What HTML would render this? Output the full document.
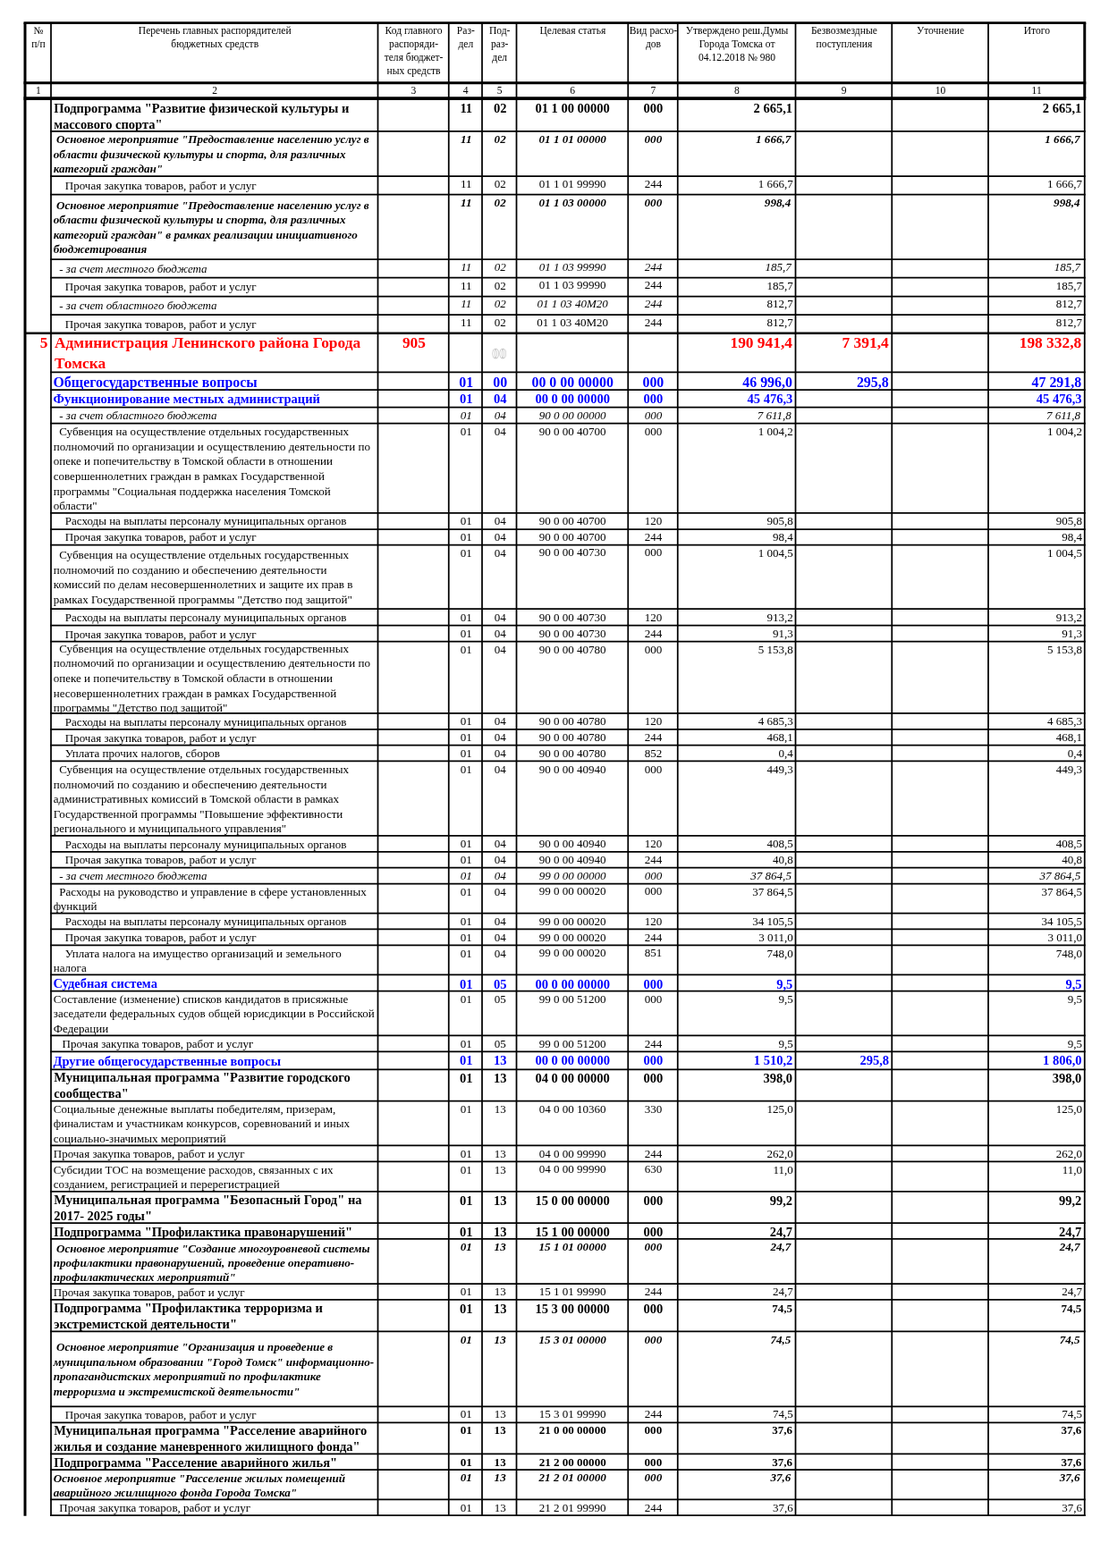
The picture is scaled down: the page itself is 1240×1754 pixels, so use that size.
<!DOCTYPE html>
<html lang="ru"><head><meta charset="utf-8"><title>Ведомственная структура расходов</title>
<style>
html,body{margin:0;padding:0;background:#fff;}
body{width:1240px;height:1754px;position:relative;overflow:hidden;font-family:"Liberation Serif","DejaVu Serif",serif;color:#000;}
svg{position:absolute;left:0;top:0;}
svg line{stroke:#000;}
.t{position:absolute;white-space:pre;line-height:20px;height:20px;}
.c{text-align:center;}
.r{text-align:right;}
.h{font-size:11.55px;}
.n{font-size:13.02px;}
.i{font-size:13.02px;font-style:italic;}
.b{font-size:14.5px;font-weight:bold;}
.bs{font-size:13.05px;font-weight:bold;}
.bi{font-size:13.08px;font-weight:bold;font-style:italic;}
.blue{font-size:15.9px;font-weight:bold;color:#0000ff;}
.blue2{font-size:14.52px;font-weight:bold;color:#0000ff;}
.red{font-size:17.35px;font-weight:bold;color:#ff0000;}
.ghost{font-size:15.9px;font-weight:bold;color:#fff;-webkit-text-stroke:0.45px #a8a8a8;}
</style></head>
<body>
<svg width="1240" height="1754" viewBox="0 0 1240 1754">
<line x1="26.50" y1="25.60" x2="1214.25" y2="25.60" stroke-width="2.9"/>
<line x1="26.50" y1="92.70" x2="1214.25" y2="92.70" stroke-width="2.9"/>
<line x1="26.50" y1="110.20" x2="1214.25" y2="110.20" stroke-width="3.8"/>
<line x1="28.00" y1="25.60" x2="28.00" y2="1695.70" stroke-width="3.0"/>
<line x1="1212.75" y1="25.60" x2="1212.75" y2="110.00" stroke-width="3.0"/>
<line x1="1212.75" y1="110.00" x2="1212.75" y2="1695.90" stroke-width="1.75"/>
<line x1="57.00" y1="25.60" x2="57.00" y2="1695.90" stroke-width="1.75"/>
<line x1="422.50" y1="25.60" x2="422.50" y2="1695.90" stroke-width="1.75"/>
<line x1="501.75" y1="25.60" x2="501.75" y2="1695.90" stroke-width="1.75"/>
<line x1="539.00" y1="25.60" x2="539.00" y2="1695.90" stroke-width="1.75"/>
<line x1="577.50" y1="25.60" x2="577.50" y2="1695.90" stroke-width="1.75"/>
<line x1="702.25" y1="25.60" x2="702.25" y2="1695.90" stroke-width="1.75"/>
<line x1="757.75" y1="25.60" x2="757.75" y2="1695.90" stroke-width="1.75"/>
<line x1="889.50" y1="25.60" x2="889.50" y2="1695.90" stroke-width="1.75"/>
<line x1="997.25" y1="25.60" x2="997.25" y2="1695.90" stroke-width="1.75"/>
<line x1="1105.00" y1="25.60" x2="1105.00" y2="1695.90" stroke-width="1.75"/>
<line x1="56.10" y1="146.85" x2="1213.65" y2="146.85" stroke-width="1.75"/>
<line x1="56.10" y1="197.00" x2="1213.65" y2="197.00" stroke-width="1.75"/>
<line x1="56.10" y1="217.50" x2="1213.65" y2="217.50" stroke-width="1.75"/>
<line x1="56.10" y1="290.00" x2="1213.65" y2="290.00" stroke-width="1.75"/>
<line x1="56.10" y1="310.50" x2="1213.65" y2="310.50" stroke-width="1.75"/>
<line x1="56.10" y1="331.50" x2="1213.65" y2="331.50" stroke-width="1.75"/>
<line x1="56.10" y1="352.00" x2="1213.65" y2="352.00" stroke-width="1.75"/>
<line x1="28.00" y1="372.75" x2="1213.45" y2="372.75" stroke-width="2.4"/>
<line x1="56.10" y1="416.30" x2="1213.65" y2="416.30" stroke-width="1.75"/>
<line x1="56.10" y1="436.00" x2="1213.65" y2="436.00" stroke-width="1.75"/>
<line x1="56.10" y1="455.50" x2="1213.65" y2="455.50" stroke-width="1.75"/>
<line x1="56.10" y1="473.50" x2="1213.65" y2="473.50" stroke-width="1.75"/>
<line x1="56.10" y1="573.75" x2="1213.65" y2="573.75" stroke-width="1.75"/>
<line x1="56.10" y1="592.00" x2="1213.65" y2="592.00" stroke-width="1.75"/>
<line x1="56.10" y1="609.70" x2="1213.65" y2="609.70" stroke-width="1.75"/>
<line x1="56.10" y1="681.00" x2="1213.65" y2="681.00" stroke-width="1.75"/>
<line x1="56.10" y1="699.50" x2="1213.65" y2="699.50" stroke-width="1.75"/>
<line x1="56.10" y1="717.50" x2="1213.65" y2="717.50" stroke-width="1.75"/>
<line x1="56.10" y1="797.75" x2="1213.65" y2="797.75" stroke-width="1.75"/>
<line x1="56.10" y1="815.75" x2="1213.65" y2="815.75" stroke-width="1.75"/>
<line x1="56.10" y1="833.50" x2="1213.65" y2="833.50" stroke-width="1.75"/>
<line x1="56.10" y1="851.25" x2="1213.65" y2="851.25" stroke-width="1.75"/>
<line x1="56.10" y1="934.75" x2="1213.65" y2="934.75" stroke-width="1.75"/>
<line x1="56.10" y1="952.75" x2="1213.65" y2="952.75" stroke-width="1.75"/>
<line x1="56.10" y1="970.50" x2="1213.65" y2="970.50" stroke-width="1.75"/>
<line x1="56.10" y1="988.50" x2="1213.65" y2="988.50" stroke-width="1.75"/>
<line x1="56.10" y1="1021.50" x2="1213.65" y2="1021.50" stroke-width="1.75"/>
<line x1="56.10" y1="1039.25" x2="1213.65" y2="1039.25" stroke-width="1.75"/>
<line x1="56.10" y1="1057.25" x2="1213.65" y2="1057.25" stroke-width="1.75"/>
<line x1="56.10" y1="1090.25" x2="1213.65" y2="1090.25" stroke-width="1.75"/>
<line x1="56.10" y1="1108.50" x2="1213.65" y2="1108.50" stroke-width="1.75"/>
<line x1="56.10" y1="1158.25" x2="1213.65" y2="1158.25" stroke-width="1.75"/>
<line x1="56.10" y1="1176.25" x2="1213.65" y2="1176.25" stroke-width="1.75"/>
<line x1="56.10" y1="1196.25" x2="1213.65" y2="1196.25" stroke-width="1.75"/>
<line x1="56.10" y1="1231.50" x2="1213.65" y2="1231.50" stroke-width="1.75"/>
<line x1="56.10" y1="1281.25" x2="1213.65" y2="1281.25" stroke-width="1.75"/>
<line x1="56.10" y1="1299.25" x2="1213.65" y2="1299.25" stroke-width="1.75"/>
<line x1="56.10" y1="1332.75" x2="1213.65" y2="1332.75" stroke-width="1.75"/>
<line x1="56.10" y1="1368.00" x2="1213.65" y2="1368.00" stroke-width="1.75"/>
<line x1="56.10" y1="1385.75" x2="1213.65" y2="1385.75" stroke-width="1.75"/>
<line x1="56.10" y1="1436.00" x2="1213.65" y2="1436.00" stroke-width="1.75"/>
<line x1="56.10" y1="1453.75" x2="1213.65" y2="1453.75" stroke-width="1.75"/>
<line x1="56.10" y1="1489.25" x2="1213.65" y2="1489.25" stroke-width="1.75"/>
<line x1="56.10" y1="1573.25" x2="1213.65" y2="1573.25" stroke-width="1.75"/>
<line x1="56.10" y1="1591.25" x2="1213.65" y2="1591.25" stroke-width="1.75"/>
<line x1="56.10" y1="1626.25" x2="1213.65" y2="1626.25" stroke-width="1.75"/>
<line x1="56.10" y1="1644.00" x2="1213.65" y2="1644.00" stroke-width="1.75"/>
<line x1="56.10" y1="1677.30" x2="1213.65" y2="1677.30" stroke-width="1.75"/>
<line x1="56.10" y1="1695.00" x2="1213.65" y2="1695.00" stroke-width="1.75"/>
</svg>
<div class="t h c" style="left:28.48px;top:24.00px;width:29.00px;">№</div>
<div class="t h c" style="left:28.48px;top:39.00px;width:29.00px;">п/п</div>
<div class="t h c" style="left:28.30px;top:91.00px;width:29.00px;">1</div>
<div class="t h c" style="left:57.48px;top:24.00px;width:365.50px;">Перечень главных распорядителей</div>
<div class="t h c" style="left:57.48px;top:39.00px;width:365.50px;">бюджетных средств</div>
<div class="t h c" style="left:57.30px;top:91.00px;width:365.50px;">2</div>
<div class="t h c" style="left:422.98px;top:24.00px;width:79.25px;">Код главного</div>
<div class="t h c" style="left:422.98px;top:39.00px;width:79.25px;">распоряди-</div>
<div class="t h c" style="left:422.98px;top:54.00px;width:79.25px;">теля бюджет-</div>
<div class="t h c" style="left:422.98px;top:69.00px;width:79.25px;">ных средств</div>
<div class="t h c" style="left:422.80px;top:91.00px;width:79.25px;">3</div>
<div class="t h c" style="left:502.23px;top:24.00px;width:37.25px;">Раз-</div>
<div class="t h c" style="left:502.23px;top:39.00px;width:37.25px;">дел</div>
<div class="t h c" style="left:502.05px;top:91.00px;width:37.25px;">4</div>
<div class="t h c" style="left:539.48px;top:24.00px;width:38.50px;">Под-</div>
<div class="t h c" style="left:539.48px;top:39.00px;width:38.50px;">раз-</div>
<div class="t h c" style="left:539.48px;top:54.00px;width:38.50px;">дел</div>
<div class="t h c" style="left:539.30px;top:91.00px;width:38.50px;">5</div>
<div class="t h c" style="left:577.98px;top:24.00px;width:124.75px;">Целевая статья</div>
<div class="t h c" style="left:577.80px;top:91.00px;width:124.75px;">6</div>
<div class="t h c" style="left:702.73px;top:24.00px;width:55.50px;">Вид расхо-</div>
<div class="t h c" style="left:702.73px;top:39.00px;width:55.50px;">дов</div>
<div class="t h c" style="left:702.55px;top:91.00px;width:55.50px;">7</div>
<div class="t h c" style="left:758.23px;top:24.00px;width:131.75px;">Утверждено реш.Думы</div>
<div class="t h c" style="left:758.23px;top:39.00px;width:131.75px;">Города Томска от</div>
<div class="t h c" style="left:758.23px;top:54.00px;width:131.75px;">04.12.2018 № 980</div>
<div class="t h c" style="left:758.05px;top:91.00px;width:131.75px;">8</div>
<div class="t h c" style="left:889.98px;top:24.00px;width:107.75px;">Безвозмездные</div>
<div class="t h c" style="left:889.98px;top:39.00px;width:107.75px;">поступления</div>
<div class="t h c" style="left:889.80px;top:91.00px;width:107.75px;">9</div>
<div class="t h c" style="left:997.73px;top:24.00px;width:107.75px;">Уточнение</div>
<div class="t h c" style="left:997.55px;top:91.00px;width:107.75px;">10</div>
<div class="t h c" style="left:1105.48px;top:24.00px;width:107.75px;">Итого</div>
<div class="t h c" style="left:1105.30px;top:91.00px;width:107.75px;">11</div>
<div class="t b" style="left:60.15px;top:111.00px;">Подпрограмма "Развитие физической культуры и</div>
<div class="t b" style="left:60.15px;top:129.00px;">массового спорта"</div>
<div class="t b c" style="left:502.65px;top:111.00px;width:37.25px;">11</div>
<div class="t b c" style="left:539.90px;top:111.00px;width:38.50px;">02</div>
<div class="t b c" style="left:577.80px;top:111.00px;width:124.75px;">01 1 00 00000</div>
<div class="t b c" style="left:702.65px;top:111.00px;width:55.50px;">000</div>
<div class="t b r" style="left:757.75px;top:111.00px;width:128.35px;">2 665,1</div>
<div class="t b r" style="left:1105.00px;top:111.00px;width:104.35px;">2 665,1</div>
<div class="t bi" style="left:59.75px;top:146.00px;"> Основное мероприятие "Предоставление населению услуг в</div>
<div class="t bi" style="left:59.75px;top:163.00px;">области физической культуры и спорта, для различных</div>
<div class="t bi" style="left:59.75px;top:179.00px;">категорий граждан"</div>
<div class="t bi c" style="left:502.65px;top:146.00px;width:37.25px;">11</div>
<div class="t bi c" style="left:539.90px;top:146.00px;width:38.50px;">02</div>
<div class="t bi c" style="left:577.80px;top:146.00px;width:124.75px;">01 1 01 00000</div>
<div class="t bi c" style="left:702.65px;top:146.00px;width:55.50px;">000</div>
<div class="t bi r" style="left:757.75px;top:146.00px;width:126.55px;">1 666,7</div>
<div class="t bi r" style="left:1105.00px;top:146.00px;width:102.55px;">1 666,7</div>
<div class="t n" style="left:59.75px;top:198.00px;">    Прочая закупка товаров, работ и услуг</div>
<div class="t n c" style="left:502.65px;top:196.00px;width:37.25px;">11</div>
<div class="t n c" style="left:539.90px;top:196.00px;width:38.50px;">02</div>
<div class="t n c" style="left:577.80px;top:196.00px;width:124.75px;">01 1 01 99990</div>
<div class="t n c" style="left:702.65px;top:196.00px;width:55.50px;">244</div>
<div class="t n r" style="left:757.75px;top:196.00px;width:129.05px;">1 666,7</div>
<div class="t n r" style="left:1105.00px;top:196.00px;width:105.05px;">1 666,7</div>
<div class="t bi" style="left:59.75px;top:220.00px;"> Основное мероприятие "Предоставление населению услуг в</div>
<div class="t bi" style="left:59.75px;top:236.00px;">области физической культуры и спорта, для различных</div>
<div class="t bi" style="left:59.75px;top:253.00px;">категорий граждан" в рамках реализации инициативного</div>
<div class="t bi" style="left:59.75px;top:269.00px;">бюджетирования</div>
<div class="t bi c" style="left:502.65px;top:217.00px;width:37.25px;">11</div>
<div class="t bi c" style="left:539.90px;top:217.00px;width:38.50px;">02</div>
<div class="t bi c" style="left:577.80px;top:217.00px;width:124.75px;">01 1 03 00000</div>
<div class="t bi c" style="left:702.65px;top:217.00px;width:55.50px;">000</div>
<div class="t bi r" style="left:757.75px;top:217.00px;width:126.55px;">998,4</div>
<div class="t bi r" style="left:1105.00px;top:217.00px;width:102.55px;">998,4</div>
<div class="t i" style="left:59.75px;top:291.00px;">  - за счет местного бюджета</div>
<div class="t i c" style="left:502.65px;top:289.00px;width:37.25px;">11</div>
<div class="t i c" style="left:539.90px;top:289.00px;width:38.50px;">02</div>
<div class="t i c" style="left:577.80px;top:289.00px;width:124.75px;">01 1 03 99990</div>
<div class="t i c" style="left:702.65px;top:289.00px;width:55.50px;">244</div>
<div class="t i r" style="left:757.75px;top:289.00px;width:127.15px;">185,7</div>
<div class="t i r" style="left:1105.00px;top:289.00px;width:103.15px;">185,7</div>
<div class="t n" style="left:59.75px;top:311.00px;">    Прочая закупка товаров, работ и услуг</div>
<div class="t n c" style="left:502.65px;top:310.00px;width:37.25px;">11</div>
<div class="t n c" style="left:539.90px;top:310.00px;width:38.50px;">02</div>
<div class="t n c" style="left:577.80px;top:309.00px;width:124.75px;">01 1 03 99990</div>
<div class="t n c" style="left:702.65px;top:309.00px;width:55.50px;">244</div>
<div class="t n r" style="left:757.75px;top:310.00px;width:129.05px;">185,7</div>
<div class="t n r" style="left:1105.00px;top:310.00px;width:105.05px;">185,7</div>
<div class="t i" style="left:59.75px;top:332.00px;">  - за счет областного бюджета</div>
<div class="t i c" style="left:502.65px;top:330.00px;width:37.25px;">11</div>
<div class="t i c" style="left:539.90px;top:330.00px;width:38.50px;">02</div>
<div class="t i c" style="left:577.80px;top:330.00px;width:124.75px;">01 1 03 40М20</div>
<div class="t i c" style="left:702.65px;top:330.00px;width:55.50px;">244</div>
<div class="t n r" style="left:757.75px;top:330.00px;width:129.05px;">812,7</div>
<div class="t n r" style="left:1105.00px;top:330.00px;width:105.05px;">812,7</div>
<div class="t n" style="left:59.75px;top:353.00px;">    Прочая закупка товаров, работ и услуг</div>
<div class="t n c" style="left:502.65px;top:351.00px;width:37.25px;">11</div>
<div class="t n c" style="left:539.90px;top:351.00px;width:38.50px;">02</div>
<div class="t n c" style="left:577.80px;top:351.00px;width:124.75px;">01 1 03 40М20</div>
<div class="t n c" style="left:702.65px;top:351.00px;width:55.50px;">244</div>
<div class="t n r" style="left:757.75px;top:351.00px;width:129.05px;">812,7</div>
<div class="t n r" style="left:1105.00px;top:351.00px;width:105.05px;">812,7</div>
<div class="t red" style="left:61.05px;top:374.00px;">Администрация Ленинского района Города</div>
<div class="t red" style="left:61.05px;top:397.00px;">Томска</div>
<div class="t red r" style="left:28.00px;top:374.00px;width:25.40px;">5</div>
<div class="t red c" style="left:423.30px;top:374.00px;width:79.25px;">905</div>
<div class="t red r" style="left:757.75px;top:374.00px;width:128.15px;">190 941,4</div>
<div class="t red r" style="left:889.50px;top:374.00px;width:104.15px;">7 391,4</div>
<div class="t red r" style="left:1105.00px;top:374.00px;width:104.15px;">198 332,8</div>
<div class="t blue" style="left:59.45px;top:418.00px;">Общегосударственные вопросы</div>
<div class="t blue c" style="left:502.65px;top:418.00px;width:37.25px;">01</div>
<div class="t blue c" style="left:539.90px;top:418.00px;width:38.50px;">00</div>
<div class="t blue c" style="left:577.80px;top:418.00px;width:124.75px;">00 0 00 00000</div>
<div class="t blue c" style="left:702.65px;top:418.00px;width:55.50px;">000</div>
<div class="t blue r" style="left:757.75px;top:418.00px;width:128.15px;">46 996,0</div>
<div class="t blue r" style="left:889.50px;top:418.00px;width:104.15px;">295,8</div>
<div class="t blue r" style="left:1105.00px;top:418.00px;width:104.15px;">47 291,8</div>
<div class="t blue2" style="left:59.45px;top:436.00px;">Функционирование местных администраций</div>
<div class="t blue2 c" style="left:502.65px;top:436.00px;width:37.25px;">01</div>
<div class="t blue2 c" style="left:539.90px;top:436.00px;width:38.50px;">04</div>
<div class="t blue2 c" style="left:577.80px;top:436.00px;width:124.75px;">00 0 00 00000</div>
<div class="t blue2 c" style="left:702.65px;top:436.00px;width:55.50px;">000</div>
<div class="t blue2 r" style="left:757.75px;top:436.00px;width:128.55px;">45 476,3</div>
<div class="t blue2 r" style="left:1105.00px;top:436.00px;width:104.55px;">45 476,3</div>
<div class="t i" style="left:59.75px;top:455.00px;">  - за счет областного бюджета</div>
<div class="t i c" style="left:502.65px;top:455.00px;width:37.25px;">01</div>
<div class="t i c" style="left:539.90px;top:455.00px;width:38.50px;">04</div>
<div class="t i c" style="left:577.80px;top:455.00px;width:124.75px;">90 0 00 00000</div>
<div class="t i c" style="left:702.65px;top:455.00px;width:55.50px;">000</div>
<div class="t i r" style="left:757.75px;top:455.00px;width:127.15px;">7 611,8</div>
<div class="t i r" style="left:1105.00px;top:455.00px;width:103.15px;">7 611,8</div>
<div class="t n" style="left:59.75px;top:473.00px;">  Субвенция на осуществление отдельных государственных</div>
<div class="t n" style="left:59.75px;top:490.00px;">полномочий по организации и осуществлению деятельности по</div>
<div class="t n" style="left:59.75px;top:506.00px;">опеке и попечительству в Томской области в отношении</div>
<div class="t n" style="left:59.75px;top:523.00px;">совершеннолетних граждан в рамках Государственной</div>
<div class="t n" style="left:59.75px;top:540.00px;">программы "Социальная поддержка населения Томской</div>
<div class="t n" style="left:59.75px;top:556.00px;">области"</div>
<div class="t n c" style="left:502.65px;top:473.00px;width:37.25px;">01</div>
<div class="t n c" style="left:539.90px;top:473.00px;width:38.50px;">04</div>
<div class="t n c" style="left:577.80px;top:473.00px;width:124.75px;">90 0 00 40700</div>
<div class="t n c" style="left:702.65px;top:473.00px;width:55.50px;">000</div>
<div class="t n r" style="left:757.75px;top:473.00px;width:129.05px;">1 004,2</div>
<div class="t n r" style="left:1105.00px;top:473.00px;width:105.05px;">1 004,2</div>
<div class="t n" style="left:59.75px;top:573.00px;">    Расходы на выплаты персоналу муниципальных органов</div>
<div class="t n c" style="left:502.65px;top:573.00px;width:37.25px;">01</div>
<div class="t n c" style="left:539.90px;top:573.00px;width:38.50px;">04</div>
<div class="t n c" style="left:577.80px;top:573.00px;width:124.75px;">90 0 00 40700</div>
<div class="t n c" style="left:702.65px;top:573.00px;width:55.50px;">120</div>
<div class="t n r" style="left:757.75px;top:573.00px;width:129.05px;">905,8</div>
<div class="t n r" style="left:1105.00px;top:573.00px;width:105.05px;">905,8</div>
<div class="t n" style="left:59.75px;top:591.00px;">    Прочая закупка товаров, работ и услуг</div>
<div class="t n c" style="left:502.65px;top:591.00px;width:37.25px;">01</div>
<div class="t n c" style="left:539.90px;top:591.00px;width:38.50px;">04</div>
<div class="t n c" style="left:577.80px;top:591.00px;width:124.75px;">90 0 00 40700</div>
<div class="t n c" style="left:702.65px;top:591.00px;width:55.50px;">244</div>
<div class="t n r" style="left:757.75px;top:591.00px;width:129.05px;">98,4</div>
<div class="t n r" style="left:1105.00px;top:591.00px;width:105.05px;">98,4</div>
<div class="t n" style="left:59.75px;top:611.00px;">  Субвенция на осуществление отдельных государственных</div>
<div class="t n" style="left:59.75px;top:628.00px;">полномочий по созданию и обеспечению деятельности</div>
<div class="t n" style="left:59.75px;top:644.00px;">комиссий по делам несовершеннолетних и защите их прав в</div>
<div class="t n" style="left:59.75px;top:661.00px;">рамках Государственной программы "Детство под защитой"</div>
<div class="t n c" style="left:502.65px;top:609.00px;width:37.25px;">01</div>
<div class="t n c" style="left:539.90px;top:609.00px;width:38.50px;">04</div>
<div class="t n c" style="left:577.80px;top:608.00px;width:124.75px;">90 0 00 40730</div>
<div class="t n c" style="left:702.65px;top:608.00px;width:55.50px;">000</div>
<div class="t n r" style="left:757.75px;top:609.00px;width:129.05px;">1 004,5</div>
<div class="t n r" style="left:1105.00px;top:609.00px;width:105.05px;">1 004,5</div>
<div class="t n" style="left:59.75px;top:681.00px;">    Расходы на выплаты персоналу муниципальных органов</div>
<div class="t n c" style="left:502.65px;top:681.00px;width:37.25px;">01</div>
<div class="t n c" style="left:539.90px;top:681.00px;width:38.50px;">04</div>
<div class="t n c" style="left:577.80px;top:681.00px;width:124.75px;">90 0 00 40730</div>
<div class="t n c" style="left:702.65px;top:681.00px;width:55.50px;">120</div>
<div class="t n r" style="left:757.75px;top:681.00px;width:129.05px;">913,2</div>
<div class="t n r" style="left:1105.00px;top:681.00px;width:105.05px;">913,2</div>
<div class="t n" style="left:59.75px;top:700.00px;">    Прочая закупка товаров, работ и услуг</div>
<div class="t n c" style="left:502.65px;top:699.00px;width:37.25px;">01</div>
<div class="t n c" style="left:539.90px;top:699.00px;width:38.50px;">04</div>
<div class="t n c" style="left:577.80px;top:699.00px;width:124.75px;">90 0 00 40730</div>
<div class="t n c" style="left:702.65px;top:699.00px;width:55.50px;">244</div>
<div class="t n r" style="left:757.75px;top:699.00px;width:129.05px;">91,3</div>
<div class="t n r" style="left:1105.00px;top:699.00px;width:105.05px;">91,3</div>
<div class="t n" style="left:59.75px;top:716.00px;">  Субвенция на осуществление отдельных государственных</div>
<div class="t n" style="left:59.75px;top:732.00px;">полномочий по организации и осуществлению деятельности по</div>
<div class="t n" style="left:59.75px;top:749.00px;">опеке и попечительству в Томской области в отношении</div>
<div class="t n" style="left:59.75px;top:766.00px;">несовершеннолетних граждан в рамках Государственной</div>
<div class="t n" style="left:59.75px;top:782.00px;">программы "Детство под защитой"</div>
<div class="t n c" style="left:502.65px;top:717.00px;width:37.25px;">01</div>
<div class="t n c" style="left:539.90px;top:717.00px;width:38.50px;">04</div>
<div class="t n c" style="left:577.80px;top:717.00px;width:124.75px;">90 0 00 40780</div>
<div class="t n c" style="left:702.65px;top:717.00px;width:55.50px;">000</div>
<div class="t n r" style="left:757.75px;top:717.00px;width:129.05px;">5 153,8</div>
<div class="t n r" style="left:1105.00px;top:717.00px;width:105.05px;">5 153,8</div>
<div class="t n" style="left:59.75px;top:798.00px;">    Расходы на выплаты персоналу муниципальных органов</div>
<div class="t n c" style="left:502.65px;top:797.00px;width:37.25px;">01</div>
<div class="t n c" style="left:539.90px;top:797.00px;width:38.50px;">04</div>
<div class="t n c" style="left:577.80px;top:797.00px;width:124.75px;">90 0 00 40780</div>
<div class="t n c" style="left:702.65px;top:797.00px;width:55.50px;">120</div>
<div class="t n r" style="left:757.75px;top:797.00px;width:129.05px;">4 685,3</div>
<div class="t n r" style="left:1105.00px;top:797.00px;width:105.05px;">4 685,3</div>
<div class="t n" style="left:59.75px;top:816.00px;">    Прочая закупка товаров, работ и услуг</div>
<div class="t n c" style="left:502.65px;top:815.00px;width:37.25px;">01</div>
<div class="t n c" style="left:539.90px;top:815.00px;width:38.50px;">04</div>
<div class="t n c" style="left:577.80px;top:815.00px;width:124.75px;">90 0 00 40780</div>
<div class="t n c" style="left:702.65px;top:815.00px;width:55.50px;">244</div>
<div class="t n r" style="left:757.75px;top:815.00px;width:129.05px;">468,1</div>
<div class="t n r" style="left:1105.00px;top:815.00px;width:105.05px;">468,1</div>
<div class="t n" style="left:59.75px;top:833.00px;">    Уплата прочих налогов, сборов</div>
<div class="t n c" style="left:502.65px;top:833.00px;width:37.25px;">01</div>
<div class="t n c" style="left:539.90px;top:833.00px;width:38.50px;">04</div>
<div class="t n c" style="left:577.80px;top:833.00px;width:124.75px;">90 0 00 40780</div>
<div class="t n c" style="left:702.65px;top:833.00px;width:55.50px;">852</div>
<div class="t n r" style="left:757.75px;top:833.00px;width:129.05px;">0,4</div>
<div class="t n r" style="left:1105.00px;top:833.00px;width:105.05px;">0,4</div>
<div class="t n" style="left:59.75px;top:851.00px;">  Субвенция на осуществление отдельных государственных</div>
<div class="t n" style="left:59.75px;top:868.00px;">полномочий по созданию и обеспечению деятельности</div>
<div class="t n" style="left:59.75px;top:884.00px;">административных комиссий в Томской области в рамках</div>
<div class="t n" style="left:59.75px;top:901.00px;">Государственной программы "Повышение эффективности</div>
<div class="t n" style="left:59.75px;top:917.00px;">регионального и муниципального управления"</div>
<div class="t n c" style="left:502.65px;top:851.00px;width:37.25px;">01</div>
<div class="t n c" style="left:539.90px;top:851.00px;width:38.50px;">04</div>
<div class="t n c" style="left:577.80px;top:851.00px;width:124.75px;">90 0 00 40940</div>
<div class="t n c" style="left:702.65px;top:851.00px;width:55.50px;">000</div>
<div class="t n r" style="left:757.75px;top:851.00px;width:129.05px;">449,3</div>
<div class="t n r" style="left:1105.00px;top:851.00px;width:105.05px;">449,3</div>
<div class="t n" style="left:59.75px;top:935.00px;">    Расходы на выплаты персоналу муниципальных органов</div>
<div class="t n c" style="left:502.65px;top:934.00px;width:37.25px;">01</div>
<div class="t n c" style="left:539.90px;top:934.00px;width:38.50px;">04</div>
<div class="t n c" style="left:577.80px;top:934.00px;width:124.75px;">90 0 00 40940</div>
<div class="t n c" style="left:702.65px;top:934.00px;width:55.50px;">120</div>
<div class="t n r" style="left:757.75px;top:934.00px;width:129.05px;">408,5</div>
<div class="t n r" style="left:1105.00px;top:934.00px;width:105.05px;">408,5</div>
<div class="t n" style="left:59.75px;top:952.00px;">    Прочая закупка товаров, работ и услуг</div>
<div class="t n c" style="left:502.65px;top:952.00px;width:37.25px;">01</div>
<div class="t n c" style="left:539.90px;top:952.00px;width:38.50px;">04</div>
<div class="t n c" style="left:577.80px;top:952.00px;width:124.75px;">90 0 00 40940</div>
<div class="t n c" style="left:702.65px;top:952.00px;width:55.50px;">244</div>
<div class="t n r" style="left:757.75px;top:952.00px;width:129.05px;">40,8</div>
<div class="t n r" style="left:1105.00px;top:952.00px;width:105.05px;">40,8</div>
<div class="t i" style="left:59.75px;top:970.00px;">  - за счет местного бюджета</div>
<div class="t i c" style="left:502.65px;top:970.00px;width:37.25px;">01</div>
<div class="t i c" style="left:539.90px;top:970.00px;width:38.50px;">04</div>
<div class="t i c" style="left:577.80px;top:970.00px;width:124.75px;">99 0 00 00000</div>
<div class="t i c" style="left:702.65px;top:970.00px;width:55.50px;">000</div>
<div class="t i r" style="left:757.75px;top:970.00px;width:127.15px;">37 864,5</div>
<div class="t i r" style="left:1105.00px;top:970.00px;width:103.15px;">37 864,5</div>
<div class="t n" style="left:59.75px;top:988.00px;">  Расходы на руководство и управление в сфере установленных</div>
<div class="t n" style="left:59.75px;top:1004.00px;">функций</div>
<div class="t n c" style="left:502.65px;top:988.00px;width:37.25px;">01</div>
<div class="t n c" style="left:539.90px;top:988.00px;width:38.50px;">04</div>
<div class="t n c" style="left:577.80px;top:987.00px;width:124.75px;">99 0 00 00020</div>
<div class="t n c" style="left:702.65px;top:987.00px;width:55.50px;">000</div>
<div class="t n r" style="left:757.75px;top:988.00px;width:129.05px;">37 864,5</div>
<div class="t n r" style="left:1105.00px;top:988.00px;width:105.05px;">37 864,5</div>
<div class="t n" style="left:59.75px;top:1021.00px;">    Расходы на выплаты персоналу муниципальных органов</div>
<div class="t n c" style="left:502.65px;top:1021.00px;width:37.25px;">01</div>
<div class="t n c" style="left:539.90px;top:1021.00px;width:38.50px;">04</div>
<div class="t n c" style="left:577.80px;top:1021.00px;width:124.75px;">99 0 00 00020</div>
<div class="t n c" style="left:702.65px;top:1021.00px;width:55.50px;">120</div>
<div class="t n r" style="left:757.75px;top:1021.00px;width:129.05px;">34 105,5</div>
<div class="t n r" style="left:1105.00px;top:1021.00px;width:105.05px;">34 105,5</div>
<div class="t n" style="left:59.75px;top:1039.00px;">    Прочая закупка товаров, работ и услуг</div>
<div class="t n c" style="left:502.65px;top:1039.00px;width:37.25px;">01</div>
<div class="t n c" style="left:539.90px;top:1039.00px;width:38.50px;">04</div>
<div class="t n c" style="left:577.80px;top:1039.00px;width:124.75px;">99 0 00 00020</div>
<div class="t n c" style="left:702.65px;top:1039.00px;width:55.50px;">244</div>
<div class="t n r" style="left:757.75px;top:1039.00px;width:129.05px;">3 011,0</div>
<div class="t n r" style="left:1105.00px;top:1039.00px;width:105.05px;">3 011,0</div>
<div class="t n" style="left:59.75px;top:1057.00px;">    Уплата налога на имущество организаций и земельного</div>
<div class="t n" style="left:59.75px;top:1073.00px;">налога</div>
<div class="t n c" style="left:502.65px;top:1057.00px;width:37.25px;">01</div>
<div class="t n c" style="left:539.90px;top:1057.00px;width:38.50px;">04</div>
<div class="t n c" style="left:577.80px;top:1056.00px;width:124.75px;">99 0 00 00020</div>
<div class="t n c" style="left:702.65px;top:1056.00px;width:55.50px;">851</div>
<div class="t n r" style="left:757.75px;top:1057.00px;width:129.05px;">748,0</div>
<div class="t n r" style="left:1105.00px;top:1057.00px;width:105.05px;">748,0</div>
<div class="t blue2" style="left:59.45px;top:1090.00px;">Судебная система</div>
<div class="t blue2 c" style="left:502.65px;top:1091.00px;width:37.25px;">01</div>
<div class="t blue2 c" style="left:539.90px;top:1091.00px;width:38.50px;">05</div>
<div class="t blue2 c" style="left:577.80px;top:1091.00px;width:124.75px;">00 0 00 00000</div>
<div class="t blue2 c" style="left:702.65px;top:1091.00px;width:55.50px;">000</div>
<div class="t blue2 r" style="left:757.75px;top:1091.00px;width:128.55px;">9,5</div>
<div class="t blue2 r" style="left:1105.00px;top:1091.00px;width:104.55px;">9,5</div>
<div class="t n" style="left:59.75px;top:1108.00px;">Составление (изменение) списков кандидатов в присяжные</div>
<div class="t n" style="left:59.75px;top:1124.00px;">заседатели федеральных судов общей юрисдикции в Российской</div>
<div class="t n" style="left:59.75px;top:1141.00px;">Федерации</div>
<div class="t n c" style="left:502.65px;top:1108.00px;width:37.25px;">01</div>
<div class="t n c" style="left:539.90px;top:1108.00px;width:38.50px;">05</div>
<div class="t n c" style="left:577.80px;top:1108.00px;width:124.75px;">99 0 00 51200</div>
<div class="t n c" style="left:702.65px;top:1108.00px;width:55.50px;">000</div>
<div class="t n r" style="left:757.75px;top:1108.00px;width:129.05px;">9,5</div>
<div class="t n r" style="left:1105.00px;top:1108.00px;width:105.05px;">9,5</div>
<div class="t n" style="left:59.75px;top:1158.00px;">   Прочая закупка товаров, работ и услуг</div>
<div class="t n c" style="left:502.65px;top:1158.00px;width:37.25px;">01</div>
<div class="t n c" style="left:539.90px;top:1158.00px;width:38.50px;">05</div>
<div class="t n c" style="left:577.80px;top:1158.00px;width:124.75px;">99 0 00 51200</div>
<div class="t n c" style="left:702.65px;top:1158.00px;width:55.50px;">244</div>
<div class="t n r" style="left:757.75px;top:1158.00px;width:129.05px;">9,5</div>
<div class="t n r" style="left:1105.00px;top:1158.00px;width:105.05px;">9,5</div>
<div class="t blue2" style="left:59.45px;top:1177.00px;">Другие общегосударственные вопросы</div>
<div class="t blue2 c" style="left:502.65px;top:1176.00px;width:37.25px;">01</div>
<div class="t blue2 c" style="left:539.90px;top:1176.00px;width:38.50px;">13</div>
<div class="t blue2 c" style="left:577.80px;top:1176.00px;width:124.75px;">00 0 00 00000</div>
<div class="t blue2 c" style="left:702.65px;top:1176.00px;width:55.50px;">000</div>
<div class="t blue2 r" style="left:757.75px;top:1176.00px;width:128.55px;">1 510,2</div>
<div class="t blue2 r" style="left:889.50px;top:1176.00px;width:104.55px;">295,8</div>
<div class="t blue2 r" style="left:1105.00px;top:1176.00px;width:104.55px;">1 806,0</div>
<div class="t b" style="left:60.15px;top:1195.00px;">Муниципальная программа "Развитие городского</div>
<div class="t b" style="left:60.15px;top:1213.00px;">сообщества"</div>
<div class="t b c" style="left:502.65px;top:1196.00px;width:37.25px;">01</div>
<div class="t b c" style="left:539.90px;top:1196.00px;width:38.50px;">13</div>
<div class="t b c" style="left:577.80px;top:1196.00px;width:124.75px;">04 0 00 00000</div>
<div class="t b c" style="left:702.65px;top:1196.00px;width:55.50px;">000</div>
<div class="t b r" style="left:757.75px;top:1196.00px;width:128.35px;">398,0</div>
<div class="t b r" style="left:1105.00px;top:1196.00px;width:104.35px;">398,0</div>
<div class="t n" style="left:59.75px;top:1231.00px;">Социальные денежные выплаты победителям, призерам,</div>
<div class="t n" style="left:59.75px;top:1247.00px;">финалистам и участникам конкурсов, соревнований и иных</div>
<div class="t n" style="left:59.75px;top:1264.00px;">социально-значимых мероприятий</div>
<div class="t n c" style="left:502.65px;top:1231.00px;width:37.25px;">01</div>
<div class="t n c" style="left:539.90px;top:1231.00px;width:38.50px;">13</div>
<div class="t n c" style="left:577.80px;top:1231.00px;width:124.75px;">04 0 00 10360</div>
<div class="t n c" style="left:702.65px;top:1231.00px;width:55.50px;">330</div>
<div class="t n r" style="left:757.75px;top:1231.00px;width:129.05px;">125,0</div>
<div class="t n r" style="left:1105.00px;top:1231.00px;width:105.05px;">125,0</div>
<div class="t n" style="left:59.75px;top:1281.00px;">Прочая закупка товаров, работ и услуг</div>
<div class="t n c" style="left:502.65px;top:1281.00px;width:37.25px;">01</div>
<div class="t n c" style="left:539.90px;top:1281.00px;width:38.50px;">13</div>
<div class="t n c" style="left:577.80px;top:1281.00px;width:124.75px;">04 0 00 99990</div>
<div class="t n c" style="left:702.65px;top:1281.00px;width:55.50px;">244</div>
<div class="t n r" style="left:757.75px;top:1281.00px;width:129.05px;">262,0</div>
<div class="t n r" style="left:1105.00px;top:1281.00px;width:105.05px;">262,0</div>
<div class="t n" style="left:59.75px;top:1299.00px;">Субсидии ТОС на возмещение расходов, связанных с их</div>
<div class="t n" style="left:59.75px;top:1315.00px;">созданием, регистрацией и перерегистрацией</div>
<div class="t n c" style="left:502.65px;top:1299.00px;width:37.25px;">01</div>
<div class="t n c" style="left:539.90px;top:1299.00px;width:38.50px;">13</div>
<div class="t n c" style="left:577.80px;top:1298.00px;width:124.75px;">04 0 00 99990</div>
<div class="t n c" style="left:702.65px;top:1298.00px;width:55.50px;">630</div>
<div class="t n r" style="left:757.75px;top:1299.00px;width:129.05px;">11,0</div>
<div class="t n r" style="left:1105.00px;top:1299.00px;width:105.05px;">11,0</div>
<div class="t b" style="left:60.15px;top:1332.00px;">Муниципальная программа "Безопасный Город" на</div>
<div class="t b" style="left:60.15px;top:1350.00px;">2017- 2025 годы"</div>
<div class="t b c" style="left:502.65px;top:1333.00px;width:37.25px;">01</div>
<div class="t b c" style="left:539.90px;top:1333.00px;width:38.50px;">13</div>
<div class="t b c" style="left:577.80px;top:1333.00px;width:124.75px;">15 0 00 00000</div>
<div class="t b c" style="left:702.65px;top:1333.00px;width:55.50px;">000</div>
<div class="t b r" style="left:757.75px;top:1333.00px;width:128.35px;">99,2</div>
<div class="t b r" style="left:1105.00px;top:1333.00px;width:104.35px;">99,2</div>
<div class="t b" style="left:60.15px;top:1368.00px;">Подпрограмма "Профилактика правонарушений"</div>
<div class="t b c" style="left:502.65px;top:1368.00px;width:37.25px;">01</div>
<div class="t b c" style="left:539.90px;top:1368.00px;width:38.50px;">13</div>
<div class="t b c" style="left:577.80px;top:1368.00px;width:124.75px;">15 1 00 00000</div>
<div class="t b c" style="left:702.65px;top:1368.00px;width:55.50px;">000</div>
<div class="t b r" style="left:757.75px;top:1368.00px;width:128.35px;">24,7</div>
<div class="t b r" style="left:1105.00px;top:1368.00px;width:104.35px;">24,7</div>
<div class="t bi" style="left:59.75px;top:1387.00px;"> Основное мероприятие "Создание многоуровневой системы</div>
<div class="t bi" style="left:59.75px;top:1403.00px;">профилактики правонарушений, проведение оперативно-</div>
<div class="t bi" style="left:59.75px;top:1419.00px;">профилактических мероприятий"</div>
<div class="t bi c" style="left:502.65px;top:1385.00px;width:37.25px;">01</div>
<div class="t bi c" style="left:539.90px;top:1385.00px;width:38.50px;">13</div>
<div class="t bi c" style="left:577.80px;top:1385.00px;width:124.75px;">15 1 01 00000</div>
<div class="t bi c" style="left:702.65px;top:1385.00px;width:55.50px;">000</div>
<div class="t bi r" style="left:757.75px;top:1385.00px;width:126.55px;">24,7</div>
<div class="t bi r" style="left:1105.00px;top:1385.00px;width:102.55px;">24,7</div>
<div class="t n" style="left:59.75px;top:1436.00px;">Прочая закупка товаров, работ и услуг</div>
<div class="t n c" style="left:502.65px;top:1435.00px;width:37.25px;">01</div>
<div class="t n c" style="left:539.90px;top:1435.00px;width:38.50px;">13</div>
<div class="t n c" style="left:577.80px;top:1435.00px;width:124.75px;">15 1 01 99990</div>
<div class="t n c" style="left:702.65px;top:1435.00px;width:55.50px;">244</div>
<div class="t n r" style="left:757.75px;top:1435.00px;width:129.05px;">24,7</div>
<div class="t n r" style="left:1105.00px;top:1435.00px;width:105.05px;">24,7</div>
<div class="t b" style="left:60.15px;top:1453.00px;">Подпрограмма "Профилактика терроризма и</div>
<div class="t b" style="left:60.15px;top:1471.00px;">экстремистской деятельности"</div>
<div class="t b c" style="left:502.65px;top:1454.00px;width:37.25px;">01</div>
<div class="t b c" style="left:539.90px;top:1454.00px;width:38.50px;">13</div>
<div class="t b c" style="left:577.80px;top:1454.00px;width:124.75px;">15 3 00 00000</div>
<div class="t b c" style="left:702.65px;top:1454.00px;width:55.50px;">000</div>
<div class="t bs r" style="left:757.75px;top:1454.00px;width:128.35px;">74,5</div>
<div class="t bs r" style="left:1105.00px;top:1454.00px;width:104.35px;">74,5</div>
<div class="t bi" style="left:59.75px;top:1497.00px;"> Основное мероприятие "Организация и проведение в</div>
<div class="t bi" style="left:59.75px;top:1514.00px;">муниципальном образовании "Город Томск" информационно-</div>
<div class="t bi" style="left:59.75px;top:1530.00px;">пропагандистских мероприятий по профилактике</div>
<div class="t bi" style="left:59.75px;top:1547.00px;">терроризма и экстремистской деятельности"</div>
<div class="t bi c" style="left:502.65px;top:1489.00px;width:37.25px;">01</div>
<div class="t bi c" style="left:539.90px;top:1489.00px;width:38.50px;">13</div>
<div class="t bi c" style="left:577.80px;top:1489.00px;width:124.75px;">15 3 01 00000</div>
<div class="t bi c" style="left:702.65px;top:1489.00px;width:55.50px;">000</div>
<div class="t bi r" style="left:757.75px;top:1489.00px;width:126.55px;">74,5</div>
<div class="t bi r" style="left:1105.00px;top:1489.00px;width:102.55px;">74,5</div>
<div class="t n" style="left:59.75px;top:1573.00px;">    Прочая закупка товаров, работ и услуг</div>
<div class="t n c" style="left:502.65px;top:1572.00px;width:37.25px;">01</div>
<div class="t n c" style="left:539.90px;top:1572.00px;width:38.50px;">13</div>
<div class="t n c" style="left:577.80px;top:1572.00px;width:124.75px;">15 3 01 99990</div>
<div class="t n c" style="left:702.65px;top:1572.00px;width:55.50px;">244</div>
<div class="t n r" style="left:757.75px;top:1572.00px;width:129.05px;">74,5</div>
<div class="t n r" style="left:1105.00px;top:1572.00px;width:105.05px;">74,5</div>
<div class="t b" style="left:60.15px;top:1590.00px;">Муниципальная программа "Расселение аварийного</div>
<div class="t b" style="left:60.15px;top:1608.00px;">жилья и создание маневренного жилищного фонда"</div>
<div class="t bs c" style="left:502.65px;top:1590.00px;width:37.25px;">01</div>
<div class="t bs c" style="left:539.90px;top:1590.00px;width:38.50px;">13</div>
<div class="t bs c" style="left:577.80px;top:1590.00px;width:124.75px;">21 0 00 00000</div>
<div class="t bs c" style="left:702.65px;top:1590.00px;width:55.50px;">000</div>
<div class="t bs r" style="left:757.75px;top:1590.00px;width:128.35px;">37,6</div>
<div class="t bs r" style="left:1105.00px;top:1590.00px;width:104.35px;">37,6</div>
<div class="t b" style="left:60.15px;top:1626.00px;">Подпрограмма "Расселение аварийного жилья"</div>
<div class="t bs c" style="left:502.65px;top:1626.00px;width:37.25px;">01</div>
<div class="t bs c" style="left:539.90px;top:1626.00px;width:38.50px;">13</div>
<div class="t bs c" style="left:577.80px;top:1626.00px;width:124.75px;">21 2 00 00000</div>
<div class="t bs c" style="left:702.65px;top:1626.00px;width:55.50px;">000</div>
<div class="t bs r" style="left:757.75px;top:1626.00px;width:128.35px;">37,6</div>
<div class="t bs r" style="left:1105.00px;top:1626.00px;width:104.35px;">37,6</div>
<div class="t bi" style="left:59.75px;top:1644.00px;">Основное мероприятие "Расселение жилых помещений</div>
<div class="t bi" style="left:59.75px;top:1660.00px;">аварийного жилищного фонда Города Томска"</div>
<div class="t bi c" style="left:502.65px;top:1643.00px;width:37.25px;">01</div>
<div class="t bi c" style="left:539.90px;top:1643.00px;width:38.50px;">13</div>
<div class="t bi c" style="left:577.80px;top:1643.00px;width:124.75px;">21 2 01 00000</div>
<div class="t bi c" style="left:702.65px;top:1643.00px;width:55.50px;">000</div>
<div class="t bi r" style="left:757.75px;top:1643.00px;width:126.55px;">37,6</div>
<div class="t bi r" style="left:1105.00px;top:1643.00px;width:102.55px;">37,6</div>
<div class="t n" style="left:59.75px;top:1677.00px;">  Прочая закупка товаров, работ и услуг</div>
<div class="t n c" style="left:502.65px;top:1677.00px;width:37.25px;">01</div>
<div class="t n c" style="left:539.90px;top:1677.00px;width:38.50px;">13</div>
<div class="t n c" style="left:577.80px;top:1677.00px;width:124.75px;">21 2 01 99990</div>
<div class="t n c" style="left:702.65px;top:1677.00px;width:55.50px;">244</div>
<div class="t n r" style="left:757.75px;top:1677.00px;width:129.05px;">37,6</div>
<div class="t n r" style="left:1105.00px;top:1677.00px;width:105.05px;">37,6</div>
<div class="t ghost c" style="left:539.00px;top:386.00px;width:38.50px">00</div>
</body></html>
